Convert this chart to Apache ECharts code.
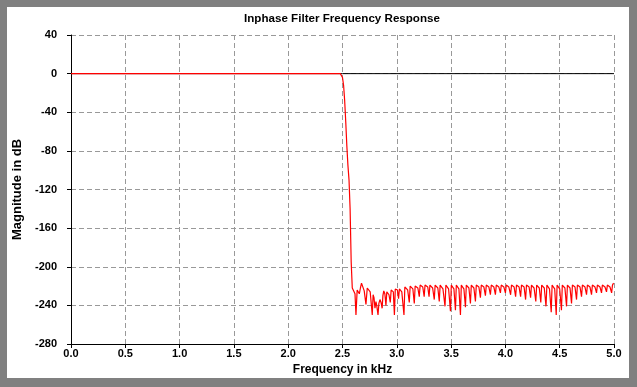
<!DOCTYPE html>
<html>
<head>
<meta charset="utf-8">
<script src="https://cdn.jsdelivr.net/npm/echarts@6/dist/echarts.min.js"></script>
<style>
html,body{margin:0;padding:0;background:#808080;width:637px;height:387px;overflow:hidden;}
#chart{position:absolute;left:7px;top:7px;width:622px;height:371px;background:#ffffff;}
</style>
</head>
<body>
<div id="chart"></div>
<script>
// Tick labels
var xTicks = ['0.0','0.5','1.0','1.5','2.0','2.5','3.0','3.5','4.0','4.5','5.0'];
var yTicks = [40, 0, -40, -80, -120, -160, -200, -240, -280];

// Frequency (kHz) of each sample of the response
var freqKHz = [
  0.00, 2.48, 2.49, 2.50, 2.51, 2.52, 2.53, 2.54, 2.55, 2.56, 2.57, 2.58, 2.59,
  2.595, 2.605, 2.615, 2.624,
  2.635, 2.645, 2.655, 2.665, 2.675, 2.685, 2.700, 2.716,
  2.728, 2.740, 2.755, 2.774,
  2.782, 2.790, 2.799,
  2.808, 2.815, 2.827,
  2.835, 2.845, 2.855, 2.865,
  2.872, 2.880, 2.890, 2.900,
  2.908, 2.918, 2.928, 2.940,
  2.948, 2.958, 2.968, 2.978,
  2.986, 2.996, 3.006, 3.016,
  3.024, 3.034, 3.046, 3.066,
  3.074, 3.086, 3.100, 3.115,
  3.123, 3.135, 3.148, 3.161,
  3.169, 3.181, 3.194, 3.207,
  3.215, 3.227, 3.239, 3.252,
  3.260, 3.272, 3.285, 3.297,
  3.305, 3.317, 3.330, 3.345,
  3.353, 3.365, 3.378, 3.391,
  3.399, 3.411, 3.425, 3.444,
  3.452, 3.464, 3.477, 3.494,
  3.502, 3.514, 3.526, 3.540,
  3.548, 3.560, 3.572, 3.586,
  3.594, 3.606, 3.618, 3.632,
  3.640, 3.652, 3.664, 3.678,
  3.686, 3.698, 3.710, 3.724,
  3.732, 3.744, 3.756, 3.770,
  3.778, 3.790, 3.802, 3.816,
  3.824, 3.836, 3.848, 3.862,
  3.870, 3.882, 3.894, 3.908,
  3.916, 3.928, 3.940, 3.954,
  3.962, 3.974, 3.986, 4.000,
  4.008, 4.020, 4.032, 4.048,
  4.056, 4.068, 4.080, 4.094,
  4.102, 4.114, 4.126, 4.140,
  4.148, 4.160, 4.172, 4.186,
  4.194, 4.206, 4.218, 4.232,
  4.240, 4.252, 4.264, 4.280,
  4.288, 4.300, 4.312, 4.326,
  4.334, 4.346, 4.358, 4.374,
  4.382, 4.394, 4.406, 4.422,
  4.430, 4.442, 4.454, 4.468,
  4.476, 4.488, 4.500, 4.516,
  4.524, 4.536, 4.548, 4.563,
  4.571, 4.583, 4.595, 4.609,
  4.617, 4.629, 4.641, 4.655,
  4.663, 4.675, 4.687, 4.701,
  4.709, 4.721, 4.733, 4.747,
  4.755, 4.767, 4.779, 4.793,
  4.801, 4.813, 4.825, 4.839,
  4.847, 4.859, 4.871, 4.885,
  4.893, 4.905, 4.917, 4.931,
  4.939, 4.951, 4.963, 4.978,
  4.986, 4.996, 5.000
];

// Magnitude (dB) at each frequency above
var magDb = [
  0, 0, -1, -4, -12, -28, -50, -75, -95, -110, -140, -195, -222,
  -224, -223, -228, -250,
  -224, -222, -228, -222, -217, -218, -225, -239,
  -222, -220, -226, -250,
  -229, -232, -243,
  -236, -240, -250,
  -238, -234, -237, -243,
  -230, -225, -228, -240,
  -226, -224, -229, -237,
  -224, -222, -226, -250,
  -223, -221, -224, -233,
  -223, -222, -226, -250,
  -221, -220, -224, -237,
  -220, -219, -223, -238,
  -220, -219, -222, -231,
  -219, -218, -221, -231,
  -219, -218, -221, -231,
  -219, -218, -222, -234,
  -219, -218, -222, -236,
  -219, -218, -223, -241,
  -219, -217, -223, -246,
  -219, -217, -223, -245,
  -219, -217, -223, -250,
  -219, -217, -223, -242,
  -219, -217, -222, -238,
  -219, -217, -222, -236,
  -219, -217, -221, -232,
  -219, -217, -221, -230,
  -219, -217, -221, -229,
  -219, -217, -221, -229,
  -219, -217, -221, -227,
  -219, -217, -221, -227,
  -219, -217, -221, -229,
  -219, -217, -221, -231,
  -219, -217, -221, -231,
  -219, -217, -221, -234,
  -219, -217, -221, -232,
  -219, -217, -222, -236,
  -219, -217, -222, -237,
  -219, -217, -222, -241,
  -219, -217, -223, -247,
  -219, -217, -223, -250,
  -219, -217, -223, -245,
  -219, -217, -222, -241,
  -219, -217, -222, -238,
  -219, -217, -221, -234,
  -219, -217, -221, -231,
  -219, -217, -221, -229,
  -219, -217, -221, -229,
  -219, -217, -221, -227,
  -219, -217, -221, -227,
  -219, -217, -221, -226,
  -219, -217, -221, -227,
  -219, -217, -218
];

// 0 dB reference line end points
var refFreq = [0, 5];
var refDb = [0, 0];

var responseData = freqKHz.map(function (f, i) { return [f, magDb[i]]; });
var refData = refFreq.map(function (f, i) { return [f, refDb[i]]; });

var FONT = '"Liberation Sans", Arial, sans-serif';
var chart = echarts.init(document.getElementById('chart'), null, { renderer: 'canvas' });
chart.setOption({
  animation: false,
  backgroundColor: '#ffffff',
  title: {
    text: 'Inphase Filter Frequency Response',
    left: 335,
    textAlign: 'center',
    top: 6,
    padding: 0,
    textStyle: { fontFamily: FONT, fontSize: 11.6, fontWeight: 'bold', color: '#000' }
  },
  grid: { left: 64, right: 15, top: 28, bottom: 34, containLabel: false, outerBoundsMode: 'none' },
  xAxis: {
    type: 'value',
    min: 0, max: 5, interval: 0.5,
    name: 'Frequency in kHz',
    nameLocation: 'middle',
    nameGap: 20,
    nameTextStyle: { fontFamily: FONT, fontSize: 12, fontWeight: 'bold', color: '#000' },
    axisLine: { show: true, onZero: false, lineStyle: { color: '#000', width: 1 } },
    axisTick: { show: true, length: 4, lineStyle: { color: '#000' } },
    axisLabel: {
      margin: 4, fontFamily: FONT, fontSize: 11, fontWeight: 'bold', color: '#000',
      formatter: function (v) { var s = v.toFixed(1); return xTicks.indexOf(s) >= 0 ? s : ''; }
    },
    splitLine: { show: true, lineStyle: { color: '#999999', type: [5, 3], width: 1 } }
  },
  yAxis: {
    type: 'value',
    min: -280, max: 40, interval: 40,
    name: 'Magnitude in dB',
    nameLocation: 'middle',
    nameGap: 36,
    nameRotate: 90,
    nameTextStyle: { fontFamily: FONT, fontSize: 13, fontWeight: 'bold', color: '#000' },
    axisLine: { show: true, onZero: false, lineStyle: { color: '#000', width: 1 } },
    axisTick: { show: true, length: 4, lineStyle: { color: '#000' } },
    axisLabel: {
      margin: 14, fontFamily: FONT, fontSize: 11, fontWeight: 'bold', color: '#000',
      formatter: function (v) { return yTicks.indexOf(v) >= 0 ? String(v) : ''; }
    },
    splitLine: { show: true, lineStyle: { color: '#999999', type: [5, 3], width: 1 } }
  },
  series: [
    {
      type: 'line',
      data: refData,
      showSymbol: false,
      lineStyle: { color: '#000000', width: 1 },
      z: 2
    },
    {
      type: 'line',
      data: responseData,
      showSymbol: false,
      lineStyle: { color: '#ff0000', width: 1.2 },
      z: 3
    }
  ]
});
</script>
</body>
</html>
